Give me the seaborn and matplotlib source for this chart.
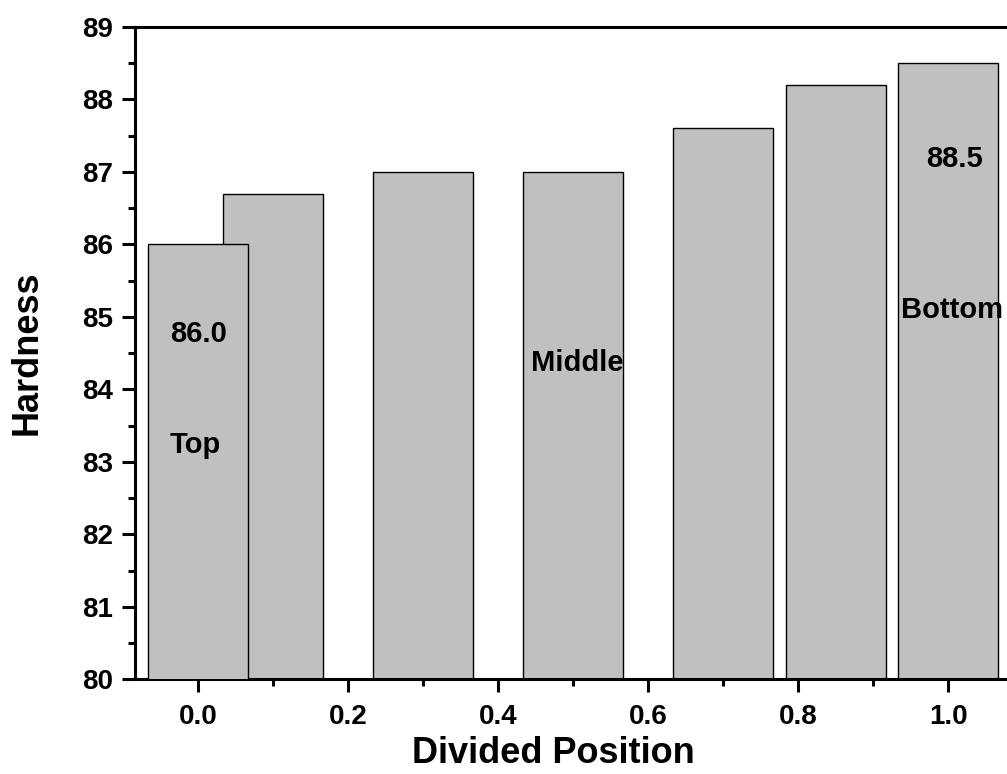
import matplotlib
matplotlib.use("Agg")
import matplotlib.pyplot as plt
from matplotlib.ticker import MultipleLocator, FormatStrFormatter
import seaborn as sns
import pandas as pd

# Hardness measured along the divided position of the part
positions = [0.0, 0.1, 0.3, 0.5, 0.7, 0.85, 1.0]
hardness = [86.0, 86.7, 87.0, 87.0, 87.6, 88.2, 88.5]

# Text annotations: (label, x, y)
notes = ["86.0", "Top", "Middle", "88.5", "Bottom"]
note_x = [0.0, -0.004, 0.505, 1.008, 1.005]
note_y = [84.65, 83.12, 84.25, 87.07, 84.98]

sns.set_theme(style="ticks")
plt.rcParams["font.family"] = ["Liberation Sans", "DejaVu Sans"]
plt.rcParams["font.weight"] = "bold"
for key in ["text.color", "axes.labelcolor", "xtick.color", "ytick.color",
            "axes.edgecolor"]:
    plt.rcParams[key] = "black"

df = pd.DataFrame({"Divided Position": positions, "Hardness": hardness})

fig = plt.figure(figsize=(10.07, 7.74), dpi=100)
ax = fig.add_axes([135 / 1007, 1 - 679.3 / 774, 877 / 1007, 652.5 / 774])

# native x scale: bar width is relative to the smallest gap (0.1)
sns.barplot(data=df, x="Divided Position", y="Hardness", native_scale=True,
            width=1.333, color="#C0C0C0", saturation=1, edgecolor="black",
            linewidth=1.0, errorbar=None, ax=ax)

# first bar sits in front of its neighbour
ax.patches[0].set_zorder(3)

ax.set_xlim(-0.0845, 1.085)
ax.set_ylim(80, 89)

ax.xaxis.set_major_locator(MultipleLocator(0.2))
ax.xaxis.set_minor_locator(MultipleLocator(0.1))
ax.xaxis.set_major_formatter(FormatStrFormatter("%.1f"))
ax.yaxis.set_major_locator(MultipleLocator(1))
ax.yaxis.set_minor_locator(MultipleLocator(0.5))
ax.yaxis.set_major_formatter(FormatStrFormatter("%d"))

for side in ["left", "bottom", "top", "right"]:
    ax.spines[side].set_linewidth(2.2)
    ax.spines[side].set_color("black")
ax.spines["right"].set_visible(False)

ax.tick_params(axis="both", which="major", direction="out", length=9.5,
               width=2.2, labelsize=20, color="black", labelcolor="black",
               pad=6)
ax.tick_params(axis="both", which="minor", direction="out", length=5,
               width=2.2, color="black")
ax.tick_params(axis="x", which="major", pad=8)
for lab in ax.get_xticklabels() + ax.get_yticklabels():
    lab.set_fontweight("bold")

ax.set_xlabel("Divided Position", fontsize=26, fontweight="bold")
ax.set_ylabel("Hardness", fontsize=26, fontweight="bold")
ax.xaxis.set_label_coords((553 - 135) / 877, (679.3 - 753.5) / 652.5)
ax.xaxis.label.set_verticalalignment("center")
ax.yaxis.set_label_coords((27 - 135) / 877, 0.5)
ax.yaxis.label.set_verticalalignment("center")

for t, x, y in zip(notes, note_x, note_y):
    ax.text(x, y, t, ha="center", va="baseline", fontsize=21,
            fontweight="bold", color="black", zorder=5, clip_on=False)

fig.savefig("out.png", dpi=100)
